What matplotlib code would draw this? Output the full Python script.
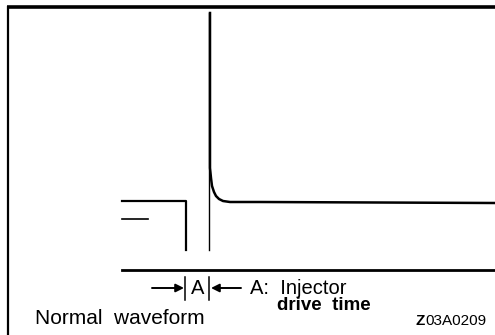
import matplotlib.pyplot as plt

# waveform (x = time, y = screen level, pixel-like units)
low_t = [122, 186, 186]
low_v = [201, 201, 250]
ref_dash_t = [122, 148]
ref_dash_v = [219, 219]
gate_t = [209, 209]
gate_v = [13, 250]
spike_t = [210, 210, 211, 212, 214, 216, 219, 223, 230, 260, 495]
spike_v = [13, 168, 178, 186, 192, 196, 199, 201, 202, 202, 203]
base_t = [122, 495]
base_v = [270, 270]

drive_start = 185
drive_end = 209

caption = "Normal  waveform"
legend_1 = "A:  Injector"
legend_2 = "drive  time"
fig_code_head = "Z"
fig_code_tail = "03A0209"


def main():
    fig = plt.figure(figsize=(4.95, 3.35), dpi=100)
    ax = fig.add_axes([0, 0, 1, 1])
    ax.set_xlim(0, 495)
    ax.set_ylim(335, 0)
    ax.axis("off")

    # frame
    ax.plot([7, 495], [7, 7], color="black", linewidth=2.6, solid_capstyle="butt")
    ax.plot([8, 8], [6, 335], color="black", linewidth=1.6, solid_capstyle="butt")

    ax.plot(low_t, low_v, color="black", linewidth=1.6)
    ax.plot(ref_dash_t, ref_dash_v, color="black", linewidth=1.2)
    ax.plot(gate_t, gate_v, color="black", linewidth=1.0)
    ax.plot(spike_t, spike_v, color="black", linewidth=1.8)
    ax.plot(base_t, base_v, color="black", linewidth=2.0)

    # drive time marker
    for x in (drive_start, drive_end):
        ax.plot([x, x], [277, 300], color="black", linewidth=1.1)
    ax.text((drive_start + drive_end) / 2 + 1, 289, "A", ha="center", va="center",
            fontsize=14.5, family="Liberation Sans")
    arrow = dict(arrowstyle="-|>", color="black", linewidth=1.4, mutation_scale=12,
                 shrinkA=0, shrinkB=0)
    ax.annotate("", xy=(drive_start - 1, 288), xytext=(152, 288), arrowprops=arrow)
    ax.annotate("", xy=(drive_end + 2, 288), xytext=(241, 288), arrowprops=arrow)

    ax.text(250, 289, legend_1, ha="left", va="center", fontsize=14.5,
            family="Liberation Sans")
    ax.text(277, 306, legend_2, ha="left", va="center", fontsize=13.5,
            family="Liberation Sans", fontweight="bold")
    ax.text(35, 319, caption, ha="left", va="center", fontsize=15,
            family="Liberation Sans")
    ax.text(415, 321, fig_code_head, ha="left", va="center", fontsize=11,
            family="Liberation Sans", fontweight="bold")
    ax.text(425, 321, fig_code_tail, ha="left", va="center", fontsize=11,
            family="Liberation Sans")

    fig.savefig("out.png", dpi=100)
    plt.close(fig)


if __name__ == "__main__":
    main()
